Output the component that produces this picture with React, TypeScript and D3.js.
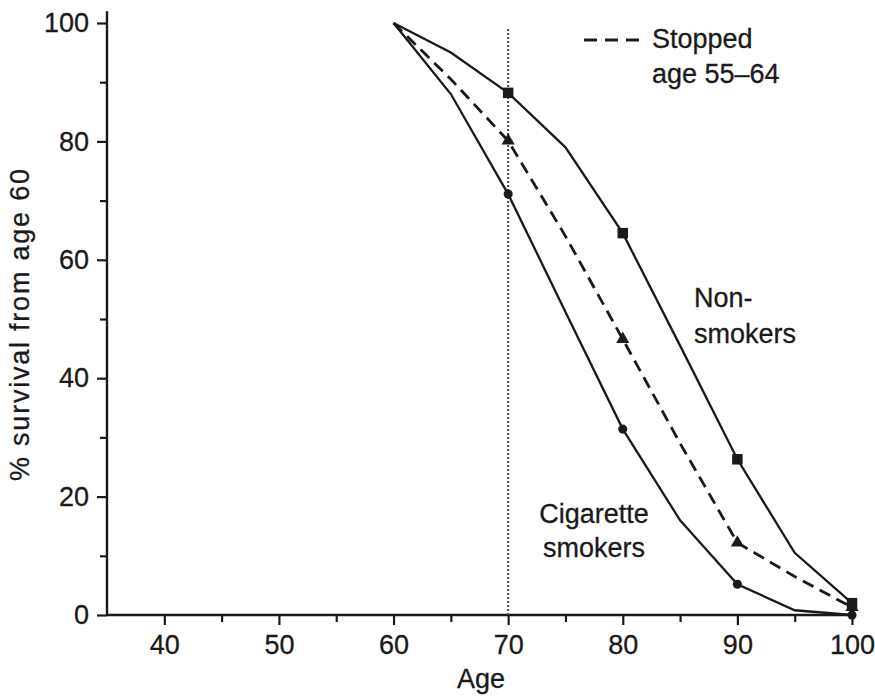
import { useEffect, useRef } from 'react';
import * as d3 from 'd3';

// survival (%) from age 60
const ages = [60, 65, 70, 75, 80, 85, 90, 95, 100];
const nonSmokers = [100, 95, 88.2, 79, 64.5, 45.5, 26.3, 10.5, 2];
const stoppedAge5564 = [100, 90.5, 80.1, 64, 46.6, 29, 12.2, 6.5, 1.3];
const cigaretteSmokers = [100, 88, 71.1, 51.2, 31.4, 16, 5.2, 0.8, 0];
const markerAges = [70, 80, 90, 100];

const xMajorTicks = [40, 50, 60, 70, 80, 90, 100];
const xMinorTicks = [45, 55, 65, 75, 85, 95];
const yMajorTicks = [0, 20, 40, 60, 80, 100];
const yMinorTicks = [10, 30, 50, 70, 90];

const FONT = '"Liberation Sans", Arial, Helvetica, sans-serif';
const INK = '#1a1a1a';

export default function App() {
  const svgRef = useRef<SVGSVGElement | null>(null);

  useEffect(() => {
    document.body.style.margin = '0';
    if (!svgRef.current) return;

    const svg = d3.select(svgRef.current);
    svg.selectAll('*').remove();

    const x = d3.scaleLinear().domain([35, 100]).range([107, 852]);
    const y = d3.scaleLinear().domain([0, 100]).range([615, 23]);

    const g = svg.append('g');

    // y axis ticks
    const yMinor = g.append('g').attr('transform', `translate(${x(35)},0)`)
      .call(d3.axisLeft(y).tickValues(yMinorTicks).tickSize(7).tickFormat(() => ''));
    const yMajor = g.append('g').attr('transform', `translate(${x(35)},0)`)
      .call(d3.axisLeft(y).tickValues(yMajorTicks).tickSize(10).tickPadding(8));

    // x axis ticks
    const xMinor = g.append('g').attr('transform', `translate(0,${y(0)})`)
      .call(d3.axisBottom(x).tickValues(xMinorTicks).tickSize(7).tickFormat(() => ''));
    const xMajor = g.append('g').attr('transform', `translate(0,${y(0)})`)
      .call(d3.axisBottom(x).tickValues(xMajorTicks).tickSize(10).tickPadding(10));

    [yMinor, yMajor, xMinor, xMajor].forEach(a => {
      a.select('.domain').remove();
      a.selectAll('line').attr('stroke', INK).attr('stroke-width', 2.2);
      a.selectAll('text')
        .attr('fill', INK)
        .attr('stroke', INK)
        .attr('stroke-width', 0.3)
        .style('font-family', FONT)
        .style('font-size', '27px');
    });

    // axis lines
    g.append('line')
      .attr('x1', x(35)).attr('x2', x(35))
      .attr('y1', y(0)).attr('y2', y(102))
      .attr('stroke', INK).attr('stroke-width', 2.4);
    g.append('line')
      .attr('x1', x(35)).attr('x2', x(100))
      .attr('y1', y(0)).attr('y2', y(0))
      .attr('stroke', INK).attr('stroke-width', 2.4);

    // dotted reference at age 70
    g.append('line')
      .attr('x1', x(70)).attr('x2', x(70))
      .attr('y1', y(0)).attr('y2', y(99))
      .attr('stroke', '#444').attr('stroke-width', 2)
      .attr('stroke-dasharray', '2,2');

    const line = d3.line<number>()
      .x((_, i) => x(ages[i]))
      .y(d => y(d));

    const series = [
      { values: nonSmokers, dash: null, marker: d3.symbolSquare, size: 110 },
      { values: stoppedAge5564, dash: '12,7', marker: d3.symbolTriangle, size: 75 },
      { values: cigaretteSmokers, dash: null, marker: d3.symbolCircle, size: 65 },
    ];

    series.forEach(s => {
      g.append('path')
        .attr('d', line(s.values))
        .attr('fill', 'none')
        .attr('stroke', INK)
        .attr('stroke-width', s.dash ? 2.8 : 2.3)
        .attr('stroke-dasharray', s.dash);

      const pts = ages
        .map((a, i) => ({ a, v: s.values[i] }))
        .filter(p => markerAges.includes(p.a));
      g.selectAll(null)
        .data(pts)
        .join('path')
        .attr('d', d3.symbol().type(s.marker).size(s.size)())
        .attr('transform', p => `translate(${x(p.a)},${y(p.v)})`)
        .attr('fill', INK);
    });

    const label = (tx: number, ty: number, txt: string, anchor = 'start') =>
      g.append('text')
        .attr('x', tx).attr('y', ty)
        .attr('text-anchor', anchor)
        .attr('fill', INK)
        .attr('stroke', INK)
        .attr('stroke-width', 0.3)
        .style('font-family', FONT)
        .style('font-size', '27px')
        .text(txt);

    // legend for dashed line
    g.append('line')
      .attr('x1', 584).attr('x2', 640)
      .attr('y1', 40).attr('y2', 40)
      .attr('stroke', INK).attr('stroke-width', 2.8)
      .attr('stroke-dasharray', '13,8');
    label(652, 48, 'Stopped');
    label(652, 83, 'age 55–64');

    label(694, 307, 'Non-');
    label(694, 343, 'smokers');

    label(594, 523, 'Cigarette', 'middle');
    label(594, 557, 'smokers', 'middle');

    // axis titles
    label(481, 688, 'Age', 'middle');
    g.append('text')
      .attr('transform', 'translate(29,325) rotate(-90)')
      .attr('text-anchor', 'middle')
      .attr('fill', INK)
      .attr('stroke', INK)
      .attr('stroke-width', 0.3)
      .attr('textLength', 312)
      .attr('lengthAdjust', 'spacing')
      .style('font-family', FONT)
      .style('font-size', '27px')
      .text('% survival from age 60');
  }, []);

  return <svg ref={svgRef} width={875} height={700} style={{ display: 'block', background: '#fff' }} />;
}
